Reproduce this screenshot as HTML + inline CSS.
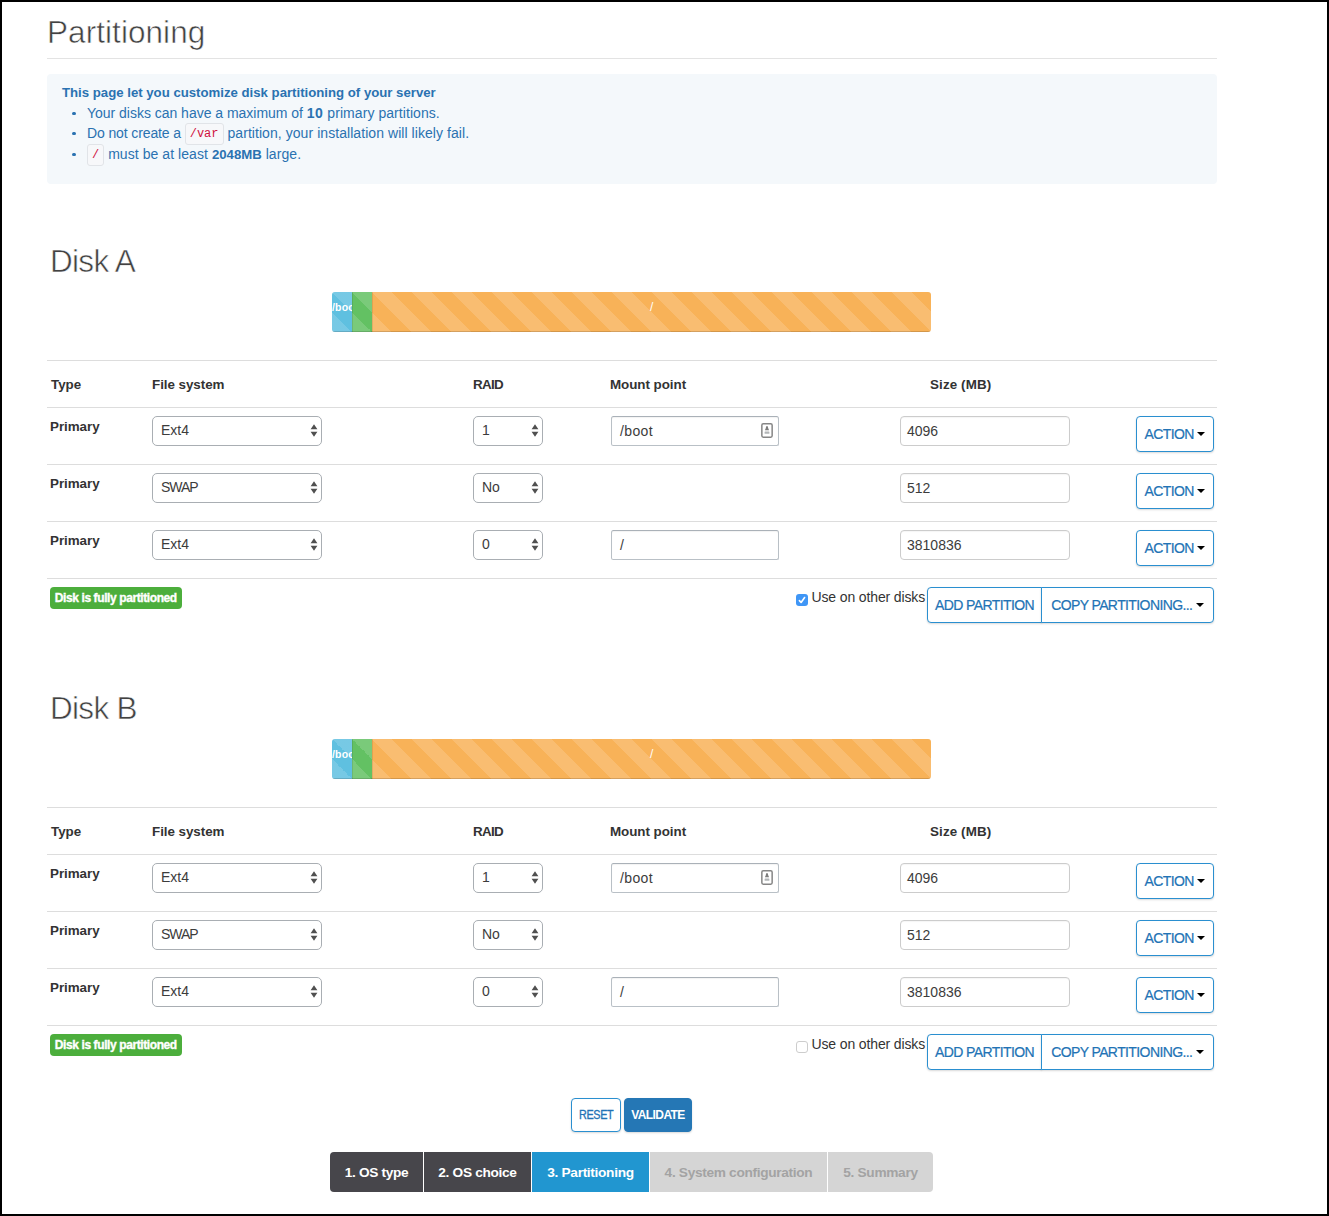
<!DOCTYPE html>
<html lang="en"><head><meta charset="utf-8"><title>Partitioning</title>
<style>
*{box-sizing:border-box;margin:0;padding:0}
html,body{width:1329px;height:1216px;overflow:hidden;background:#fff}
body{font-family:"Liberation Sans",sans-serif;font-size:14px;color:#333}
#frame{position:absolute;left:0;top:0;width:1329px;height:1216px;border:2px solid #000;background:#fff;overflow:hidden}
#frame div{position:absolute}
.disk{left:0;width:1325px;height:0}
.h1,.h2{font-size:31.5px;line-height:40px;color:#424242;-webkit-text-stroke:0.55px #fff;white-space:nowrap;letter-spacing:-0.7px}
.h1{letter-spacing:0.06px}
.hl{left:45px;width:1170px;height:1px;background:#ddd}
.info{background:#f4f8fb;border-radius:4px;color:#2a72b1}
.il{white-space:nowrap;font-size:14px;line-height:20px;letter-spacing:0.06px}
.il.b,.il b{font-weight:bold;font-size:13.2px;letter-spacing:0}
.il u{position:absolute;left:-15px;top:8.5px;width:3.6px;height:3.6px;border-radius:50%;background:#2a72b1;text-decoration:none}
code{font-family:"Liberation Mono",monospace;font-size:12px;color:#d0113f;background:#f7f8fa;border:1px solid #e1e4e8;border-radius:3px;padding:3px 4px 3px;position:relative;top:-1px;letter-spacing:0}
.prog{width:599px;height:40px;border-radius:3px;overflow:hidden;background:#f5f5f5;display:flex}
#frame .pb{position:relative;height:40px;overflow:hidden;color:#fff;font-size:11px;line-height:30px;text-align:center;white-space:nowrap;box-shadow:inset 0 -1px 0 rgba(0,0,0,.15);
 background-image:linear-gradient(45deg,rgba(255,255,255,.15) 25%,transparent 25%,transparent 50%,rgba(255,255,255,.15) 50%,rgba(255,255,255,.15) 75%,transparent 75%,transparent);background-size:40px 40px}
.pb.pi{background-color:#5fc0e0}
.pb.ps{background-color:#63c163}
.pb.pw{background-color:#f8b258}
.th{letter-spacing:-0.05px;font-weight:bold;font-size:13.4px;line-height:20px;color:#333;white-space:nowrap}
.sel{color:#3c3c3c;height:30px;border:1px solid #a9aeb3;border-radius:5px;background:#fff;font-size:14px;line-height:26px}
.sel span{padding-left:8px}
.inp{color:#3c3c3c;height:30px;border:1px solid #b9c0c6;border-top-color:#aab1b8;border-radius:2.5px;box-shadow:inset 0 1px 1px rgba(0,0,0,.05);background:#fff;font-size:14px;line-height:29px}
.inp.r{border-color:#ccc;border-radius:4px;box-shadow:inset 0 1px 1px rgba(0,0,0,.04)}
.inp.r span{padding-left:6px}
.inp span{padding-left:8px}
.btn{border:1px solid #2a8fd0;border-radius:4px;background:#fff;color:#2273b5;font-size:14px;line-height:34px;text-align:center;white-space:nowrap;box-shadow:0 1px 2px rgba(0,0,0,.15)}
.btn span{letter-spacing:-0.6px;-webkit-text-stroke:0.2px #2273b5}
.btn em{position:relative;top:-1px;display:inline-block;width:0;height:0;border-left:4px solid transparent;border-right:4px solid transparent;border-top:4px solid #000;margin-left:3.5px;vertical-align:middle}
.btn.gl{border-radius:4px 0 0 4px}
.btn.gr{border-radius:0 4px 4px 0}
.btn.sm{font-size:12px;line-height:32px}
.btn.sm.rs span{display:inline-block;font-size:12px;letter-spacing:-0.35px;transform:scaleX(.9);-webkit-text-stroke:.3px #2273b5}
.btn.pri{background:#2577b5;border-color:#2577b5;color:#fff;font-weight:bold}
.btn.pri span{-webkit-text-stroke:0}
.lab{height:22px;border-radius:4px;background:#4cae3c;color:#fff;font-weight:bold;font-size:12px;line-height:22px;padding:0;white-space:nowrap;width:132px;text-align:center;letter-spacing:-0.4px;-webkit-text-stroke:0.35px #fff;text-indent:-0.4px}
.cb{width:12px;height:12px;border:1px solid #cdcdcd;border-radius:3px;background:#fff}
.cb.on{background:#3f96f6;border:0;border-radius:3px}
.cb.on svg{left:0;top:0}
.cbt{font-size:14px;line-height:20px;white-space:nowrap;color:#333;letter-spacing:-0.13px}
.steps{height:40px;display:flex}
#frame .st{position:relative;height:40px;margin-right:1px;font-size:13.7px;letter-spacing:-0.32px;line-height:41px;text-align:center;white-space:nowrap;font-weight:bold}
.st.dk{background:#47464b;color:#fff}
.st.ac{background:#2196d0;color:#fff}
.st.ds{background:#d5d5d5;color:#a3a3a3}

.ab{position:absolute;right:5px;top:6px}
.cb svg{position:absolute;left:-1px;top:-1px}

.pb span{position:absolute;top:0}
#frame .pb.pe{box-shadow:inset 0 -1px 0 rgba(0,0,0,.15),inset 1px 0 0 rgba(0,0,0,.09)}

.sel svg{position:absolute;right:3.5px;top:7px}

</style></head><body>
<div id="frame">
<div class="h1" style="left:45px;top:10px">Partitioning</div>
<div class="hl" style="top:56px;background:#e3e3e3"></div>
<div class="info" style="left:45px;top:72px;width:1170px;height:110px">
<div class="il b" style="top:9px;left:15px">This page let you customize disk partitioning of your server</div>
<div class="il" style="top:29px;left:40px"><u></u><span style="letter-spacing:-0.02px">Your disks can have a maximum of </span><b style="font-size:14px;letter-spacing:0.5px">10</b> primary partitions.</div>
<div class="il" style="top:49px;left:40px"><u></u><span style="letter-spacing:-0.12px">Do not create a </span><code>/var</code> partition, your installation will likely fail.</div>
<div class="il" style="top:70px;left:40px"><u></u><code>/</code> must be at least <b>2048MB</b> large.</div>
</div>
<div class="disk" style="top:0px">
<div class="h2" style="left:48px;top:239px">Disk A</div>
<div class="prog" style="left:330px;top:290px"><div class="pb pi" style="width:20px"><span style="left:0px;font-weight:bold;font-size:10.5px;letter-spacing:0.2px">/boot</span></div><div class="pb ps pe" style="width:20px"></div><div class="pb pw pe" style="width:559px"><span style="left:278px;font-size:12px">/</span></div></div>
<div class="hl" style="top:358px"></div>
<div class="th" style="left:49px;top:372.5px">Type</div>
<div class="th" style="left:150px;top:372.5px">File system</div>
<div class="th" style="left:471px;top:372.5px"><span style="letter-spacing:-0.7px">RAID</span></div>
<div class="th" style="left:608px;top:372.5px">Mount point</div>
<div class="th" style="left:928px;top:372.5px"><span style="letter-spacing:0.12px">Size (MB)</span></div>
<div class="hl" style="top:405px"></div>
<div class="th" style="left:48px;top:414.5px">Primary</div>
<div class="sel" style="left:150px;top:414px;width:170px"><span>Ext4</span><svg width="8" height="13" viewBox="0 0 8 13"><path d="M4 0.3 L7.4 5.3 L0.6 5.3 Z M4 12.7 L7.4 7.7 L0.6 7.7 Z" fill="#505050"/></svg></div>
<div class="sel" style="left:471px;top:414px;width:70px"><span>1</span><svg width="8" height="13" viewBox="0 0 8 13"><path d="M4 0.3 L7.4 5.3 L0.6 5.3 Z M4 12.7 L7.4 7.7 L0.6 7.7 Z" fill="#505050"/></svg></div>
<div class="inp" style="left:609px;top:414px;width:168px"><span style="padding-left:8px;letter-spacing:0.35px">/boot</span><svg class="ab" width="12" height="15" viewBox="0 0 12 15"><rect x="0.85" y="0.85" width="10.3" height="13.3" rx="1.4" fill="#fff" stroke="#868686" stroke-width="1.5"/><path d="M6 3 C7.1 3 7 4.6 7.3 5.6 C7.6 6.4 8 6.6 8 7.2 L4 7.2 C4 6.6 4.4 6.4 4.7 5.6 C5 4.6 4.9 3 6 3 Z" fill="#7d7d7d"/><rect x="3.6" y="8.5" width="4.8" height="2.3" rx="0.4" fill="#b3b6b8"/></svg></div>
<div class="inp r" style="left:898px;top:414px;width:170px"><span>4096</span></div>
<div class="btn" style="left:1134px;top:414px;width:78px;height:36px"><span>ACTION</span><em></em></div>
<div class="hl" style="top:462px"></div>
<div class="th" style="left:48px;top:471.5px">Primary</div>
<div class="sel" style="left:150px;top:471px;width:170px"><span><span style="padding:0;letter-spacing:-1px">SWAP</span></span><svg width="8" height="13" viewBox="0 0 8 13"><path d="M4 0.3 L7.4 5.3 L0.6 5.3 Z M4 12.7 L7.4 7.7 L0.6 7.7 Z" fill="#505050"/></svg></div>
<div class="sel" style="left:471px;top:471px;width:70px"><span>No</span><svg width="8" height="13" viewBox="0 0 8 13"><path d="M4 0.3 L7.4 5.3 L0.6 5.3 Z M4 12.7 L7.4 7.7 L0.6 7.7 Z" fill="#505050"/></svg></div>
<div class="inp r" style="left:898px;top:471px;width:170px"><span>512</span></div>
<div class="btn" style="left:1134px;top:471px;width:78px;height:36px"><span>ACTION</span><em></em></div>
<div class="hl" style="top:519px"></div>
<div class="th" style="left:48px;top:528.5px">Primary</div>
<div class="sel" style="left:150px;top:528px;width:170px"><span>Ext4</span><svg width="8" height="13" viewBox="0 0 8 13"><path d="M4 0.3 L7.4 5.3 L0.6 5.3 Z M4 12.7 L7.4 7.7 L0.6 7.7 Z" fill="#505050"/></svg></div>
<div class="sel" style="left:471px;top:528px;width:70px"><span>0</span><svg width="8" height="13" viewBox="0 0 8 13"><path d="M4 0.3 L7.4 5.3 L0.6 5.3 Z M4 12.7 L7.4 7.7 L0.6 7.7 Z" fill="#505050"/></svg></div>
<div class="inp" style="left:609px;top:528px;width:168px"><span style="padding-left:8px;letter-spacing:0.35px">/</span></div>
<div class="inp r" style="left:898px;top:528px;width:170px"><span>3810836</span></div>
<div class="btn" style="left:1134px;top:528px;width:78px;height:36px"><span>ACTION</span><em></em></div>
<div class="hl" style="top:576px"></div>
<div class="lab" style="left:48px;top:585px">Disk is fully partitioned</div>
<div class="cb on" style="left:794px;top:592px"><svg width="12" height="12" viewBox="0 0 12 12"><path d="M3.4 6.6 L5.1 8.5 L8.6 3.5" fill="none" stroke="#fff" stroke-width="1.6" stroke-linecap="round" stroke-linejoin="round"/></svg></div>
<div class="cbt" style="left:809.5px;top:585px">Use on other disks</div>
<div class="btn gl" style="left:925px;top:585px;width:115px;height:36px"><span>ADD PARTITION</span></div>
<div class="btn gr" style="left:1039px;top:585px;width:173px;height:36px"><span>COPY PARTITIONING...</span><em></em></div>
</div>
<div class="disk" style="top:447px">
<div class="h2" style="left:48px;top:239px">Disk B</div>
<div class="prog" style="left:330px;top:290px"><div class="pb pi" style="width:20px"><span style="left:0px;font-weight:bold;font-size:10.5px;letter-spacing:0.2px">/boot</span></div><div class="pb ps pe" style="width:20px"></div><div class="pb pw pe" style="width:559px"><span style="left:278px;font-size:12px">/</span></div></div>
<div class="hl" style="top:358px"></div>
<div class="th" style="left:49px;top:372.5px">Type</div>
<div class="th" style="left:150px;top:372.5px">File system</div>
<div class="th" style="left:471px;top:372.5px"><span style="letter-spacing:-0.7px">RAID</span></div>
<div class="th" style="left:608px;top:372.5px">Mount point</div>
<div class="th" style="left:928px;top:372.5px"><span style="letter-spacing:0.12px">Size (MB)</span></div>
<div class="hl" style="top:405px"></div>
<div class="th" style="left:48px;top:414.5px">Primary</div>
<div class="sel" style="left:150px;top:414px;width:170px"><span>Ext4</span><svg width="8" height="13" viewBox="0 0 8 13"><path d="M4 0.3 L7.4 5.3 L0.6 5.3 Z M4 12.7 L7.4 7.7 L0.6 7.7 Z" fill="#505050"/></svg></div>
<div class="sel" style="left:471px;top:414px;width:70px"><span>1</span><svg width="8" height="13" viewBox="0 0 8 13"><path d="M4 0.3 L7.4 5.3 L0.6 5.3 Z M4 12.7 L7.4 7.7 L0.6 7.7 Z" fill="#505050"/></svg></div>
<div class="inp" style="left:609px;top:414px;width:168px"><span style="padding-left:8px;letter-spacing:0.35px">/boot</span><svg class="ab" width="12" height="15" viewBox="0 0 12 15"><rect x="0.85" y="0.85" width="10.3" height="13.3" rx="1.4" fill="#fff" stroke="#868686" stroke-width="1.5"/><path d="M6 3 C7.1 3 7 4.6 7.3 5.6 C7.6 6.4 8 6.6 8 7.2 L4 7.2 C4 6.6 4.4 6.4 4.7 5.6 C5 4.6 4.9 3 6 3 Z" fill="#7d7d7d"/><rect x="3.6" y="8.5" width="4.8" height="2.3" rx="0.4" fill="#b3b6b8"/></svg></div>
<div class="inp r" style="left:898px;top:414px;width:170px"><span>4096</span></div>
<div class="btn" style="left:1134px;top:414px;width:78px;height:36px"><span>ACTION</span><em></em></div>
<div class="hl" style="top:462px"></div>
<div class="th" style="left:48px;top:471.5px">Primary</div>
<div class="sel" style="left:150px;top:471px;width:170px"><span><span style="padding:0;letter-spacing:-1px">SWAP</span></span><svg width="8" height="13" viewBox="0 0 8 13"><path d="M4 0.3 L7.4 5.3 L0.6 5.3 Z M4 12.7 L7.4 7.7 L0.6 7.7 Z" fill="#505050"/></svg></div>
<div class="sel" style="left:471px;top:471px;width:70px"><span>No</span><svg width="8" height="13" viewBox="0 0 8 13"><path d="M4 0.3 L7.4 5.3 L0.6 5.3 Z M4 12.7 L7.4 7.7 L0.6 7.7 Z" fill="#505050"/></svg></div>
<div class="inp r" style="left:898px;top:471px;width:170px"><span>512</span></div>
<div class="btn" style="left:1134px;top:471px;width:78px;height:36px"><span>ACTION</span><em></em></div>
<div class="hl" style="top:519px"></div>
<div class="th" style="left:48px;top:528.5px">Primary</div>
<div class="sel" style="left:150px;top:528px;width:170px"><span>Ext4</span><svg width="8" height="13" viewBox="0 0 8 13"><path d="M4 0.3 L7.4 5.3 L0.6 5.3 Z M4 12.7 L7.4 7.7 L0.6 7.7 Z" fill="#505050"/></svg></div>
<div class="sel" style="left:471px;top:528px;width:70px"><span>0</span><svg width="8" height="13" viewBox="0 0 8 13"><path d="M4 0.3 L7.4 5.3 L0.6 5.3 Z M4 12.7 L7.4 7.7 L0.6 7.7 Z" fill="#505050"/></svg></div>
<div class="inp" style="left:609px;top:528px;width:168px"><span style="padding-left:8px;letter-spacing:0.35px">/</span></div>
<div class="inp r" style="left:898px;top:528px;width:170px"><span>3810836</span></div>
<div class="btn" style="left:1134px;top:528px;width:78px;height:36px"><span>ACTION</span><em></em></div>
<div class="hl" style="top:576px"></div>
<div class="lab" style="left:48px;top:585px">Disk is fully partitioned</div>
<div class="cb" style="left:794px;top:592px"></div>
<div class="cbt" style="left:809.5px;top:585px">Use on other disks</div>
<div class="btn gl" style="left:925px;top:585px;width:115px;height:36px"><span>ADD PARTITION</span></div>
<div class="btn gr" style="left:1039px;top:585px;width:173px;height:36px"><span>COPY PARTITIONING...</span><em></em></div>
</div>
<div class="btn sm rs" style="left:569px;top:1096px;width:50px;height:34px"><span>RESET</span></div>
<div class="btn sm pri" style="left:622px;top:1096px;width:68px;height:34px"><span>VALIDATE</span></div>
<div class="steps" style="left:328px;top:1150px">
<div class="st dk" style="width:93px;border-radius:4px 0 0 4px">1. OS type</div>
<div class="st dk" style="width:107px">2. OS choice</div>
<div class="st ac" style="width:117px">3. Partitioning</div>
<div class="st ds" style="width:177px">4. System configuration</div>
<div class="st ds" style="width:105px;border-radius:0 4px 4px 0;margin-right:0">5. Summary</div>
</div>
</div>
</body></html>
